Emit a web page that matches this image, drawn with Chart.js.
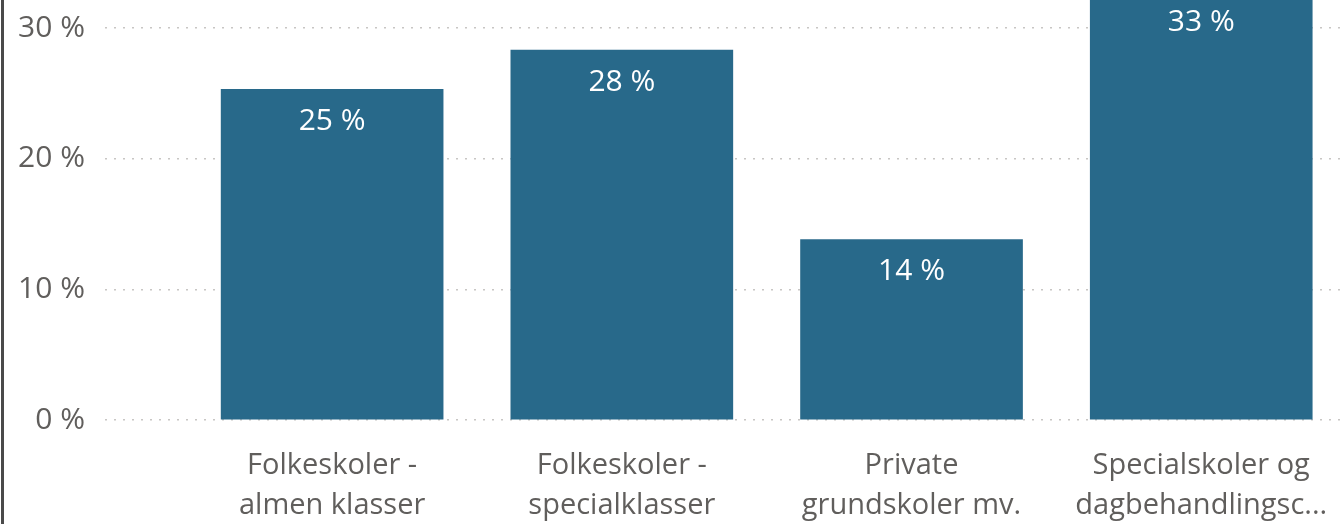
<!DOCTYPE html>
<html>
<head>
<meta charset="utf-8">
<script src="https://cdn.jsdelivr.net/npm/chart.js@4"></script>
<style>
  html, body { margin: 0; padding: 0; background: #fff; overflow: hidden; }
  #wrap { position: absolute; left: 0; top: 0; width: 1340px; height: 524px; }
  #edge { position: absolute; left: 1px; top: 0; width: 3px; height: 524px; background: #4a4a4a; }
</style>
</head>
<body>
<div id="wrap">
  <canvas id="mychart" width="1340" height="524"></canvas>
  <div id="edge"></div>
</div>
<script>
// data
const categories = [
    ['Folkeskoler -', 'almen klasser'],
    ['Folkeskoler -', 'specialklasser'],
    ['Private', 'grundskoler mv.'],
    ['Specialskoler og', 'dagbehandlingsc...']
]
const shares = [25.3, 28.3, 13.8, 32.9]
const yTicks = [0, 10, 20, 30]

const barColor = '#28698a'
const axisColor = '#605e5c'
const fontFamily = '"Open Sans", "Noto Sans", sans-serif'

// labels inside bar ends, like the power bi data labels
const barLabels = {
    id: 'barLabels',
    afterDatasetsDraw(chart) {
        const ctx = chart.ctx
        const meta = chart.getDatasetMeta(0)
        ctx.save()
        ctx.fillStyle = '#ffffff'
        ctx.font = '30px ' + fontFamily
        ctx.textAlign = 'center'
        ctx.textBaseline = 'middle'
        meta.data.forEach((bar, i) => {
            ctx.fillText(Math.round(shares[i]) + ' %', bar.x, bar.y + 32)
        })
        ctx.restore()
    }
}

const ctx = document.getElementById('mychart').getContext('2d')
const mychart = new Chart(ctx, {
    type: 'bar',
    data: {
        datasets: [
            {
                data: shares.map((v, i) => ({ x: i, y: v })),
                backgroundColor: barColor,
                borderWidth: 0,
                barThickness: 222
            }
        ]
    },
    options: {
        responsive: false,
        animation: false,
        layout: { padding: 0 },
        scales: {
            x: {
                type: 'linear',
                offset: false,
                min: -0.784,
                max: 3.479,
                grid: { display: false, offset: false },
                border: { display: false },
                afterBuildTicks: (scale) => {
                    scale.ticks = categories.map((c, i) => ({ value: i }))
                },
                afterFit: (scale) => {
                    scale.height = 104
                    scale.paddingLeft = 0
                    scale.paddingRight = 0
                },
                ticks: {
                    autoSkip: false,
                    maxRotation: 0,
                    padding: 18,
                    color: axisColor,
                    font: { family: fontFamily, size: 29, lineHeight: 1.38 },
                    callback: (v) => categories[v]
                }
            },
            y: {
                min: 0,
                max: 32.14,
                afterBuildTicks: (scale) => {
                    scale.ticks = yTicks.map(v => ({ value: v }))
                },
                afterFit: (scale) => {
                    scale.width = 105
                    scale.paddingTop = 0
                    scale.paddingBottom = 0
                },
                grid: {
                    color: '#c8c6c4',
                    lineWidth: 1.5,
                    drawTicks: false
                },
                border: { display: false, dash: [2, 7] },
                ticks: {
                    padding: 20,
                    color: axisColor,
                    font: { family: fontFamily, size: 30 },
                    callback: (v) => v + ' %'
                }
            }
        },
        plugins: {
            legend: { display: false },
            tooltip: { enabled: false }
        }
    },
    plugins: [barLabels]
})
</script>
</body>
</html>
